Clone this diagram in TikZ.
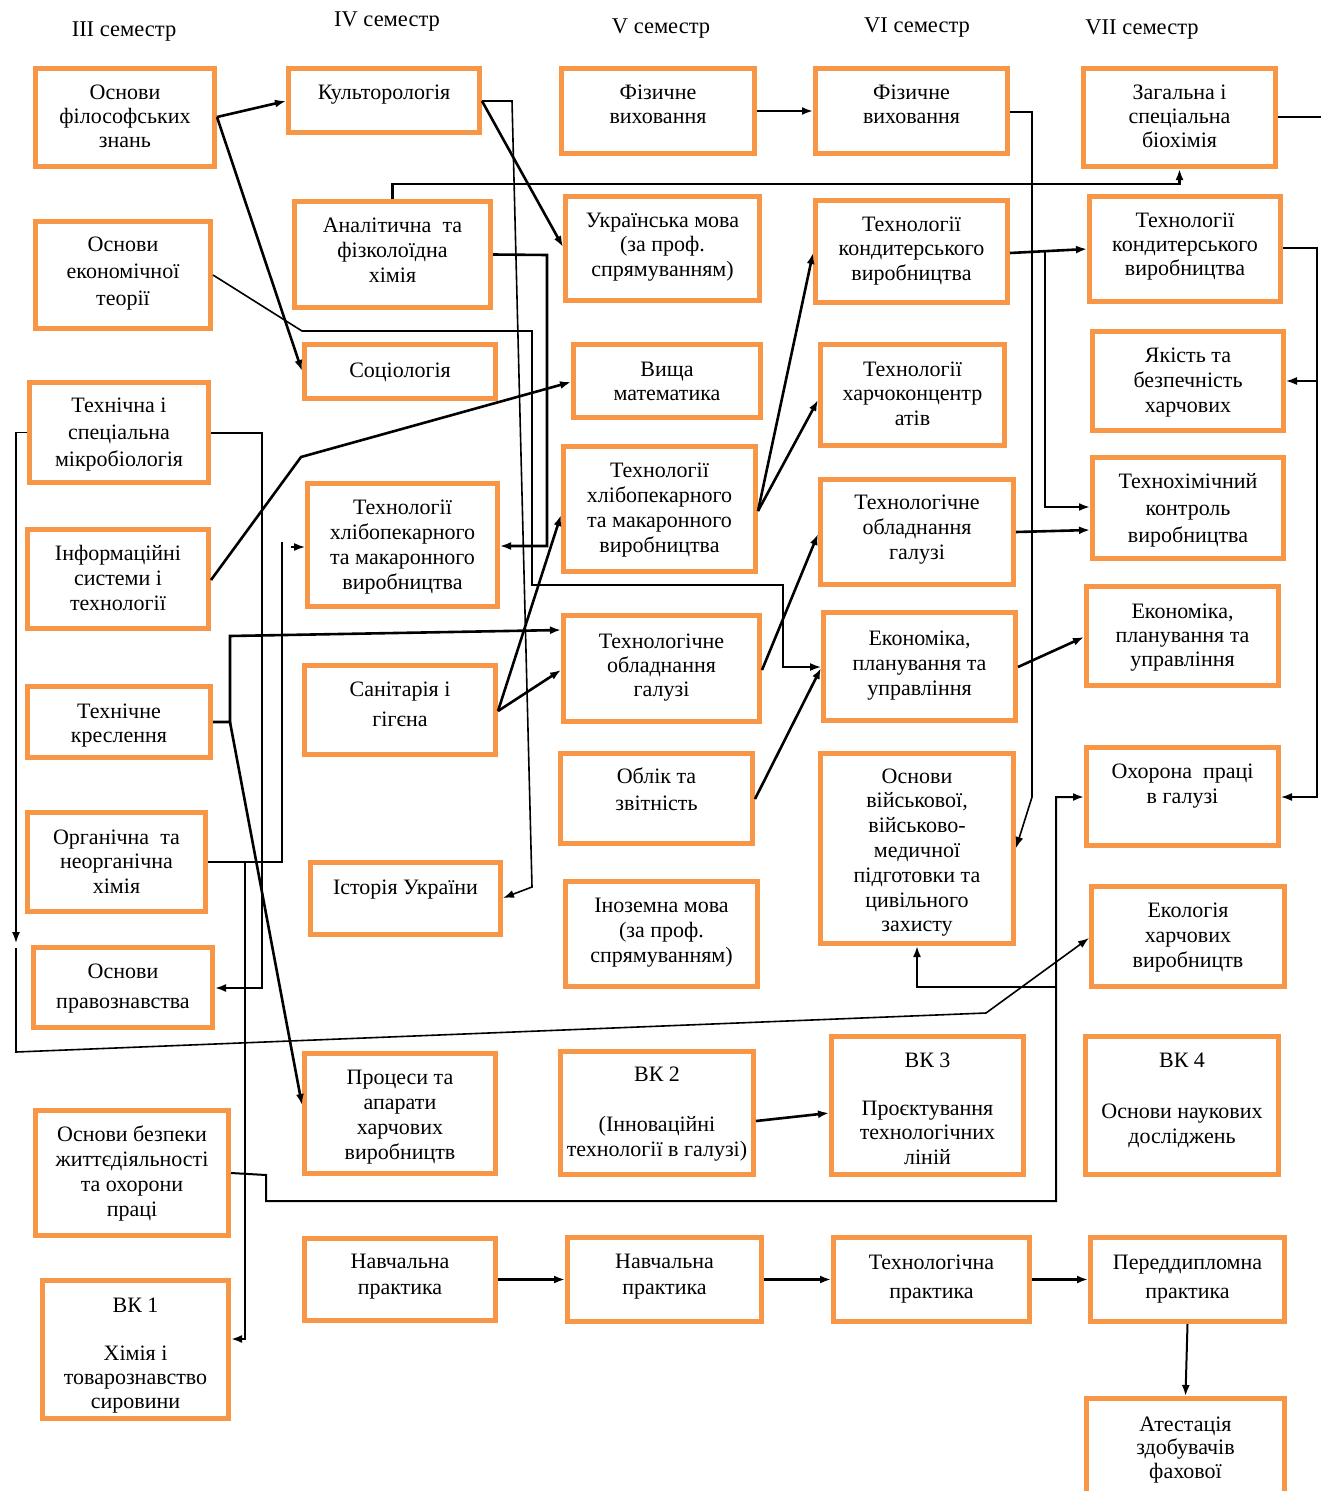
\documentclass[tikz,border=0pt]{standalone}
\usepackage{fontspec}
\setmainfont{Liberation Serif}
\usetikzlibrary{arrows.meta}
\definecolor{bord}{HTML}{F79646}
\newcommand\tx[2]{\fontsize{22}{#1}\selectfont\begin{tabular}[t]{@{}c@{}}#2\end{tabular}}
\newcommand\bx[8]{%
  \node[cbox, minimum width={#4-#2-5}, minimum height={#5-#3-5}] (#1) at ({(#2+#4)/2},{(#3+#5)/2}) {};
  \node[txt] (#1t) at ({(#2+#4)/2},#6) {\tx{#7}{#8}};
}
\begin{document}
\begin{tikzpicture}[x=1pt,y=-1pt,
  cbox/.style={draw=bord, line width=5pt, rectangle, inner sep=0pt, outer sep=2.5pt},
  txt/.style={inner sep=0pt, anchor=base},
  sem/.style={inner sep=0pt, anchor=base, font=\fontsize{22.5}{24}\selectfont},
  thk/.style={line width=2.6pt},
  med/.style={line width=2pt},
  thn/.style={line width=1.6pt},
  arr/.style={-{Latex[length=11pt,width=8pt]}}]
\clip (0,0) rectangle (1321,1491);
% semester labels
\node[sem] (s3) at (124,36) {III семестр};
\node[sem] (s4) at (387,27) {IV семестр};
\node[sem] (s5) at (661,33) {V семестр};
\node[sem] (s6) at (917,32) {VI семестр};
\node[sem] (s7) at (1142,34) {VII семестр};
% column III
\bx{fil}{33}{66}{217}{169}{99}{24}{Основи\\філософських\\знань}
\bx{econ}{33}{219}{213}{331}{251}{27}{Основи\\економічної\\теорії}
\bx{micro}{27}{380}{211}{485}{412}{27}{Технічна і\\спеціальна\\мікробіологія}
\bx{info}{25}{527}{211}{631}{560}{25}{Інформаційні\\системи і\\технології}
\bx{kresl}{25}{684}{213}{760}{718}{24}{Технічне\\креслення}
\bx{orgchem}{25}{810}{208}{914}{844}{24.5}{Органічна\ \ та\\неорганічна\\хімія}
\bx{pravo}{31}{945}{215}{1030}{978}{30}{Основи\\правознавства}
\bx{bzhd}{33}{1108}{231}{1238}{1141}{25}{Основи безпеки\\життєдіяльності\\та охорони\\праці}
\bx{vk1}{40}{1278}{231}{1421}{1312}{24.2}{ВК 1\\ \\Хімія і\\товарознавство\\сировини}
% column IV
\bx{kult}{286}{66}{482}{135}{99}{24}{Культорологія}
\bx{anal}{292}{199}{493}{310}{232}{25}{Аналітична\ \ та\\фізколоїдна\\хімія}
\bx{soc}{302}{342}{498}{401}{377}{24}{Соціологія}
\bx{hlibA}{305}{481}{500}{609}{514}{25}{Технології\\хлібопекарного\\та макаронного\\виробництва}
\bx{san}{302}{663}{498}{757}{696}{30}{Санітарія і\\гігєна}
\bx{ist}{308}{860}{503}{937}{894}{24}{Історія України}
\bx{proc}{302}{1051}{498}{1176}{1084}{25}{Процеси та\\апарати\\харчових\\виробництв}
\bx{praktA}{302}{1236}{498}{1323}{1268}{26}{Навчальна\\практика}
% column V
\bx{fizA}{559}{66}{757}{156}{99}{24}{Фізичне\\виховання}
\bx{ukr}{563}{194}{762}{303}{227}{24.5}{Українська мова\\(за проф.\\спрямуванням)}
\bx{math}{571}{342}{763}{420}{376}{24}{Вища\\математика}
\bx{hlibB}{561}{444}{758}{574}{477}{25}{Технології\\хлібопекарного\\та макаронного\\виробництва}
\bx{oblA}{561}{613}{762}{724}{648}{24}{Технологічне\\обладнання\\галузі}
\bx{oblik}{558}{751}{755}{846}{783}{27}{Облік та\\звітність}
\bx{inoz}{563}{879}{760}{989}{912}{25}{Іноземна мова\\(за проф.\\спрямуванням)}
\bx{vkB}{558}{1049}{756}{1177}{1081}{25.3}{ВК 2\\ \\(Інноваційні\\технології в галузі)}
\bx{praktB}{565}{1235}{764}{1324}{1268}{26}{Навчальна\\практика}
% column VI
\bx{fizB}{813}{66}{1010}{156}{99}{24}{Фізичне\\виховання}
\bx{kondA}{813}{198}{1010}{305}{231}{24.5}{Технології\\кондитерського\\виробництва}
\bx{konc}{818}{342}{1007}{448}{376}{24.5}{Технології\\харчоконцентр\\атів}
\bx{oblB}{818}{477}{1016}{587}{509}{25}{Технологічне\\обладнання\\галузі}
\bx{econA}{821}{610}{1018}{723}{645}{25}{Економіка,\\планування та\\управління}
\bx{mil}{818}{751}{1016}{946}{783}{24.8}{Основи\\військової,\\військово-\\медичної\\підготовки та\\цивільного\\захисту}
\bx{vkC}{829}{1034}{1026}{1177}{1067}{24.3}{ВК 3\\ \\Проєктування\\технологічних\\ліній}
\bx{tprakt}{831}{1235}{1032}{1324}{1269}{29}{Технологічна\\практика}
% column VII
\bx{bioch}{1081}{66}{1278}{169}{99}{24}{Загальна і\\спеціальна\\біохімія}
\bx{kondB}{1087}{194}{1283}{304}{227}{24}{Технології\\кондитерського\\виробництва}
\bx{yak}{1090}{329}{1286}{433}{362}{25}{Якість та\\безпечність\\харчових}
\bx{tkhim}{1090}{455}{1286}{561}{488}{27}{Технохімічний\\контроль\\виробництва}
\bx{econB}{1084}{584}{1281}{688}{618}{24}{Економіка,\\планування та\\управління}
\bx{ohor}{1084}{745}{1281}{848}{778}{25}{Охорона\ \ праці\\в галузі}
\bx{ekol}{1089}{884}{1287}{989}{917}{25}{Екологія\\харчових\\виробництв}
\bx{vkD}{1083}{1034}{1281}{1177}{1067}{25.5}{ВК 4\\ \\Основи наукових\\досліджень}
\bx{pred}{1088}{1235}{1287}{1324}{1269}{29}{Переддипломна\\практика}
\bx{atest}{1084}{1396}{1287}{1530}{1431}{23.5}{Атестація\\здобувачів\\фахової}
% helper coordinates
\coordinate (k1) at (230,722);
\coordinate (o1) at (245,862);
\coordinate (h1) at (291,547);
\coordinate (m1) at (16,948);
\coordinate (b1) at (1056,987);
\coordinate (c1) at (1045,252);
\coordinate (r1) at (1317,381);
\coordinate (bend) at (1321,117);
% connectors
\draw[thk,arr] (fil.east |- 0,117) -- (kult.west |- 0,101);
\draw[thk,arr] (fil.east |- 0,117) -- (soc.west |- 0,371);
\draw[thk,arr] (kult.east |- 0,101) -- (ukr.west |- 0,247);
\draw[thn,arr] (kult.east |- 0,101) -- (512,101) -- (532,887) -- (ist.east |- 0,898);
\draw[thk,arr] (anal.north) |- (bioch.south |- 0,184) -- (bioch.south);
\draw[thk,arr] (anal.east) -- (547,255) |- (hlibA.east |- 0,546);
\draw[thn,arr] (econ.east |- 0,275) -- (302,331) -- (532,331) -- (532,585) -- (783,585) |- (econA.west |- 0,667);
\draw[thk,arr] (info.east |- 0,580) -- (301,457) -- (math.west |- 0,382);
\draw[med,arr] (micro.east) -| (262,988) -- (pravo.east |- 0,988);
\draw[thn,arr] (micro.west) -| (16,943);
\draw[thn,arr] (m1) -- (16,1052) -- (986,1013) -- (ekol.west |- 0,938);
\draw[thk,arr] (kresl.east) -- (k1) -- (230,636) -- (oblA.west |- 0,630);
\draw[thk,arr] (k1) -- (proc.west |- 0,1105);
\draw[thn] (orgchem.east |- 0,862) -| (282,542);
\draw[thn,arr] (h1) -- (hlibA.west |- 0,547);
\draw[thk,arr] (o1) -- (245,1339) -- (vk1.east |- 0,1339);
\draw[med,arr] (bzhd.east |- 0,1173) -- (266,1175) -- (266,1201) -- (1056,1201) -- (1056,797) -- (ohor.west |- 0,797);
\draw[med,arr] (b1) -| (mil.south);
\draw[thk,arr] (san.east |- 0,711) -- (hlibB.west |- 0,515);
\draw[thk,arr] (san.east |- 0,711) -- (oblA.west |- 0,670);
\draw[thk,arr] (hlibB.east |- 0,511) -- (kondA.west |- 0,253);
\draw[thk,arr] (hlibB.east |- 0,511) -- (konc.west |- 0,400);
\draw[thk,arr] (oblA.east |- 0,670) -- (oblB.west |- 0,534);
\draw[thk,arr] (oblik.east |- 0,799) -- (econA.west |- 0,668);
\draw[thk,arr] (fizA.east) -- (fizB.west);
\draw[thn,arr] (fizB.east |- 0,112) -- (1032,112) -- (1032,797) -- (mil.east |- 0,848);
\draw[thk,arr] (kondA.east |- 0,253) -- (kondB.west |- 0,249);
\draw[thk,arr] (c1) |- (tkhim.west |- 0,507);
\draw[thk,arr] (oblB.east |- 0,532) -- (tkhim.west |- 0,530);
\draw[thk,arr] (econA.east |- 0,667) -- (econB.west |- 0,637);
\draw[thn,arr] (kondB.east |- 0,248) -| (1317,797) -- (ohor.east |- 0,797);
\draw[thn,arr] (r1) -- (yak.east |- 0,381);
\draw[thk] (bioch.east |- 0,117) -- (bend);
\draw[thk,arr] (praktA.east) -- (praktB.west);
\draw[thk,arr] (praktB.east) -- (tprakt.west);
\draw[thk,arr] (tprakt.east) -- (pred.west);
\draw[med,arr] (pred.south) -- (atest.north);
\draw[thk,arr] (vkB.east |- 0,1121) -- (vkC.west |- 0,1113);
\end{tikzpicture}
\end{document}
